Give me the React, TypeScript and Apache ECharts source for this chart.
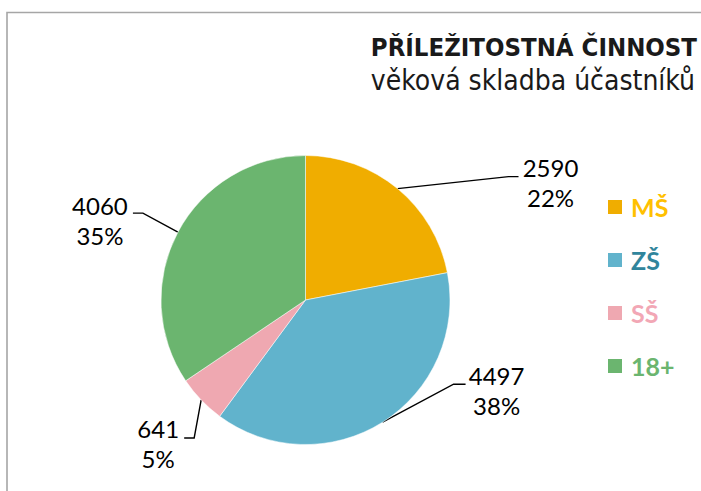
import React, { useEffect, useRef } from "react";
import * as echarts from "echarts";

const categories = ["MŠ", "ZŠ", "SŠ", "18+"];
const values = [2590, 4497, 641, 4060];
const percentLabels = ["22%", "38%", "5%", "35%"];
const titleText = "PŘÍLEŽITOSTNÁ ČINNOST";
const subtitleText = "věková skladba účastníků";

const sliceColors = ["#F0AD00", "#61B3CC", "#EFA8B1", "#6BB56F"];
const legendTextColors = ["#FFC000", "#31859C", "#F2A7B5", "#6BB56F"];

// leader-line geometry (offsets from the slice edge point)
const leader = [
  { ex: 111, ey: -12, hx: 10, lx: 32, ly: 6 },
  { ex: 71, ey: -38, hx: 12, lx: 31, ly: 6 },
  { ex: -7, ey: 38, hx: -10, lx: -26, ly: 6 },
  { ex: -35, ey: -19, hx: -10, lx: -33, ly: 7 },
];

const labelFont = "Lato, 'Open Sans', sans-serif";
const titleFont = "'DejaVu Sans Condensed', 'DejaVu Sans', sans-serif";

export default function App() {
  const ref = useRef<HTMLDivElement>(null);
  useEffect(() => {
    if (!ref.current) return;
    const chart = echarts.init(ref.current, undefined, { renderer: "svg" });
    chart.setOption({
      animation: false,
      backgroundColor: "#ffffff",
      title: {
        text: titleText,
        subtext: subtitleText,
        right: 4,
        top: 32,
        itemGap: 3,
        padding: 0,
        textStyle: {
          fontFamily: titleFont,
          fontWeight: "bold",
          fontSize: 25.5,
          color: "#1a1a1a",
          lineHeight: 30,
        },
        subtextStyle: {
          fontFamily: titleFont,
          fontSize: 28,
          color: "#1a1a1a",
          lineHeight: 30,
        },
      },
      legend: {
        orient: "vertical",
        left: 606,
        top: 192,
        padding: 0,
        itemWidth: 16,
        itemHeight: 16,
        itemGap: 23,
        icon: "rect",
        selectedMode: false,
        textStyle: {
          fontFamily: labelFont,
          fontWeight: "bold",
          fontSize: 25,
          lineHeight: 30,
          padding: [0, 0, 0, 3],
        },
        data: categories.map((c, i) => ({
          name: c,
          textStyle: { color: legendTextColors[i] },
        })),
      },
      graphic: [
        {
          type: "rect",
          shape: { x: 7, y: 12.5, width: 900, height: 700 },
          style: { fill: "none", stroke: "#A6A6A6", lineWidth: 1.6 },
          silent: true,
        },
      ],
      series: [
        {
          type: "pie",
          center: [305.5, 300],
          radius: 144.5,
          startAngle: 90,
          clockwise: true,
          avoidLabelOverlap: false,
          emphasis: { disabled: true },
          itemStyle: { borderColor: "#ffffff", borderWidth: 0.5 },
          label: {
            show: true,
            position: "outside",
            fontFamily: labelFont,
            fontSize: 24,
            lineHeight: 30,
            color: "#000000",
            align: "center",
            formatter: (p: any) => `${p.value}\n${percentLabels[p.dataIndex]}`,
          },
          labelLine: {
            show: true,
            length: 10,
            length2: 10,
            lineStyle: { color: "#000000", width: 1.4 },
          },
          labelLayout: (params: any) => {
            const i = params.dataIndex;
            const p0 = params.labelLinePoints
              ? params.labelLinePoints[0]
              : [0, 0];
            const o = leader[i];
            const elbow = [p0[0] + o.ex, p0[1] + o.ey];
            const end = [elbow[0] + o.hx, elbow[1]];
            return {
              x: end[0] + o.lx,
              y: end[1] + o.ly,
              align: "center",
              verticalAlign: "middle",
              labelLinePoints: [p0, elbow, end],
            };
          },
          data: categories.map((c, i) => ({
            name: c,
            value: values[i],
            itemStyle: { color: sliceColors[i] },
          })),
        },
      ],
    });
    return () => chart.dispose();
  }, []);
  return (
    <div
      ref={ref}
      style={{ position: "absolute", left: 0, top: 0, width: 701, height: 491 }}
    />
  );
}
